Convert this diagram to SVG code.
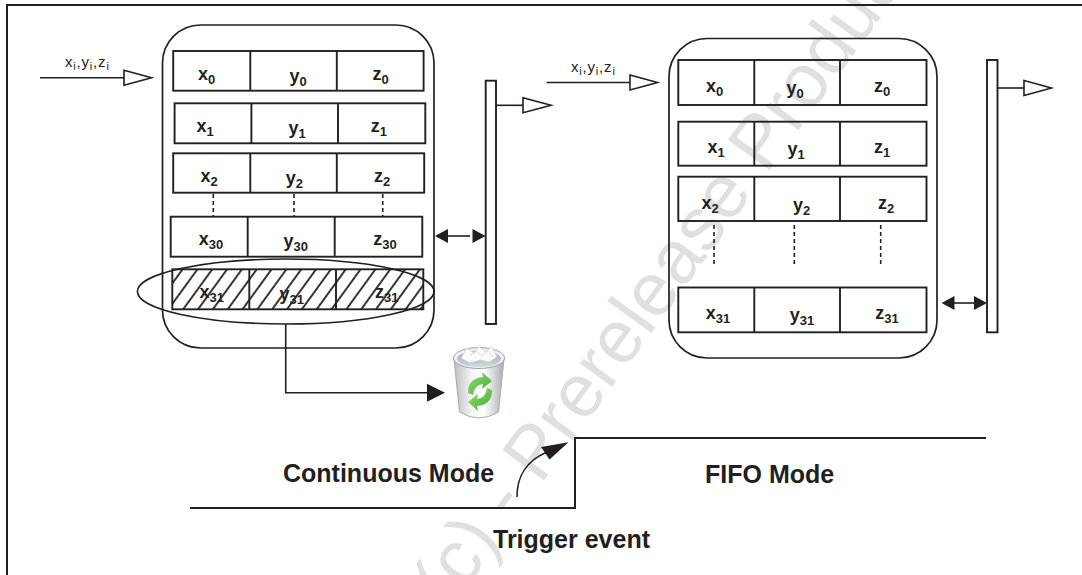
<svg xmlns="http://www.w3.org/2000/svg" width="1082" height="575" viewBox="0 0 1082 575">
<style>
.ln{fill:none;stroke:#231f20;stroke-width:1.6}
.frame{fill:none;stroke:#231f20;stroke-width:2}
.cont{fill:none;stroke:#231f20;stroke-width:1.7}
.cell{fill:none;stroke:#231f20;stroke-width:1.9}
.open{fill:#fff;stroke:#231f20;stroke-width:1.6}
.solid{fill:#231f20;stroke:none}
.dot{fill:none;stroke:#231f20;stroke-width:1.6;stroke-dasharray:4 3}
.lab{font-family:"Liberation Sans",Arial,sans-serif;font-weight:bold;font-size:18px;fill:#231f20;text-anchor:middle}
.sub{font-size:13px}
.in{font-family:"Liberation Sans",Arial,sans-serif;font-size:15px;fill:#231f20;letter-spacing:0.8px}
.isub{font-size:11px}
.big{font-family:"Liberation Sans",Arial,sans-serif;font-weight:bold;font-size:25px;fill:#231f20}
.wm{font-family:"Liberation Sans",Arial,sans-serif;font-size:75px;fill:#e0e0e0}
</style>
<defs>
<pattern id="hatch" patternUnits="userSpaceOnUse" width="12" height="12" patternTransform="rotate(36)">
<line x1="6" y1="-1" x2="6" y2="13" stroke="#231f20" stroke-width="1.8"/>
</pattern>
<clipPath id="clip31"><rect x="172.3" y="269.3" width="251" height="40"/></clipPath>
<linearGradient id="canBody" x1="0" y1="0" x2="1" y2="0">
<stop offset="0" stop-color="#b9bcbf"/>
<stop offset="0.35" stop-color="#f4f5f6"/>
<stop offset="0.6" stop-color="#ffffff"/>
<stop offset="1" stop-color="#a9adb1"/>
</linearGradient>
<linearGradient id="canIn" x1="0" y1="0" x2="0" y2="1">
<stop offset="0" stop-color="#9ea3a8"/>
<stop offset="1" stop-color="#d7dadd"/>
</linearGradient>
<linearGradient id="grn" x1="0" y1="0" x2="1" y2="1">
<stop offset="0" stop-color="#9be06b"/>
<stop offset="1" stop-color="#3fa83a"/>
</linearGradient>
</defs>
<rect x="0" y="0" width="1082" height="575" fill="#fff"/>

<g id="watermark">
<text class="wm" transform="translate(450,610) rotate(-54)">(c) - Prerelease Product</text>
</g>

<g id="frame">
<polyline class="frame" points="7,575 7,5 1082,5"/>
</g>

<g id="continuous-buffer">
<rect class="cont" x="162.5" y="25" width="271.5" height="323" rx="38" ry="38"/>
<g id="l-row0">
<rect class="cell" x="173.2" y="51" width="250.4" height="39.7"/>
<line class="cell" x1="250.3" y1="51" x2="250.3" y2="90.7"/>
<line class="cell" x1="336.8" y1="51" x2="336.8" y2="90.7"/>
<text class="lab" x="206.6" y="79.5">x<tspan class="sub" dy="4">0</tspan></text>
<text class="lab" x="298" y="81.5">y<tspan class="sub" dy="4">0</tspan></text>
<text class="lab" x="380.5" y="79.5">z<tspan class="sub" dy="4">0</tspan></text>
</g>
<g id="l-row1">
<rect class="cell" x="174.6" y="103.3" width="250.7" height="40"/>
<line class="cell" x1="251.4" y1="103.3" x2="251.4" y2="143.3"/>
<line class="cell" x1="338" y1="103.3" x2="338" y2="143.3"/>
<text class="lab" x="205" y="132">x<tspan class="sub" dy="4">1</tspan></text>
<text class="lab" x="297" y="134">y<tspan class="sub" dy="4">1</tspan></text>
<text class="lab" x="378.8" y="132">z<tspan class="sub" dy="4">1</tspan></text>
</g>
<g id="l-row2">
<rect class="cell" x="173.2" y="153.3" width="251" height="39.4"/>
<line class="cell" x1="250.3" y1="153.3" x2="250.3" y2="192.7"/>
<line class="cell" x1="336.8" y1="153.3" x2="336.8" y2="192.7"/>
<text class="lab" x="209" y="181.5">x<tspan class="sub" dy="4">2</tspan></text>
<text class="lab" x="294.4" y="183.5">y<tspan class="sub" dy="4">2</tspan></text>
<text class="lab" x="382" y="181.5">z<tspan class="sub" dy="4">2</tspan></text>
</g>
<line class="dot" x1="213.3" y1="194" x2="213.3" y2="216"/>
<line class="dot" x1="294" y1="194" x2="294" y2="216"/>
<line class="dot" x1="382.7" y1="194" x2="382.7" y2="216"/>
<g id="l-row30">
<rect class="cell" x="170.7" y="216.7" width="251.6" height="40"/>
<line class="cell" x1="247.7" y1="216.7" x2="247.7" y2="256.7"/>
<line class="cell" x1="334.7" y1="216.7" x2="334.7" y2="256.7"/>
<text class="lab" x="211" y="245">x<tspan class="sub" dy="4">30</tspan></text>
<text class="lab" x="295.7" y="247">y<tspan class="sub" dy="4">30</tspan></text>
<text class="lab" x="385" y="245">z<tspan class="sub" dy="4">30</tspan></text>
</g>
<g id="l-row31">
<rect x="172.3" y="269.3" width="251" height="40" fill="url(#hatch)" clip-path="url(#clip31)"/>
<text class="lab" x="211.7" y="297.5">x<tspan class="sub" dy="4">31</tspan></text>
<text class="lab" x="291.7" y="299.5">y<tspan class="sub" dy="4">31</tspan></text>
<text class="lab" x="386.7" y="297.5">z<tspan class="sub" dy="4">31</tspan></text>
<rect class="cell" x="172.3" y="269.3" width="251" height="40"/>
<line class="cell" x1="249.3" y1="269.3" x2="249.3" y2="309.3"/>
<line class="cell" x1="336" y1="269.3" x2="336" y2="309.3"/>
</g>
<ellipse id="discard-ellipse" class="ln" cx="285.7" cy="291.5" rx="148.3" ry="32.5"/>
</g>

<g id="l-output-bar">
<rect class="cell" x="485.7" y="80.7" width="10.3" height="243.3"/>
</g>

<g id="fifo-buffer">
<rect class="cont" x="669" y="38.5" width="268" height="319.5" rx="38" ry="38"/>
<g id="r-row0">
<rect class="cell" x="678.3" y="60" width="248.2" height="45"/>
<line class="cell" x1="754.3" y1="60" x2="754.3" y2="105"/>
<line class="cell" x1="840" y1="60" x2="840" y2="105"/>
<text class="lab" x="714.6" y="92">x<tspan class="sub" dy="4">0</tspan></text>
<text class="lab" x="795" y="94">y<tspan class="sub" dy="4">0</tspan></text>
<text class="lab" x="882" y="92">z<tspan class="sub" dy="4">0</tspan></text>
</g>
<g id="r-row1">
<rect class="cell" x="678.3" y="121.7" width="248.2" height="44"/>
<line class="cell" x1="754.3" y1="121.7" x2="754.3" y2="165.7"/>
<line class="cell" x1="840" y1="121.7" x2="840" y2="165.7"/>
<text class="lab" x="716" y="153">x<tspan class="sub" dy="4">1</tspan></text>
<text class="lab" x="796" y="155">y<tspan class="sub" dy="4">1</tspan></text>
<text class="lab" x="882" y="153">z<tspan class="sub" dy="4">1</tspan></text>
</g>
<g id="r-row2">
<rect class="cell" x="678.3" y="176.7" width="248.2" height="44.3"/>
<line class="cell" x1="754.3" y1="176.7" x2="754.3" y2="221"/>
<line class="cell" x1="840" y1="176.7" x2="840" y2="221"/>
<text class="lab" x="710" y="208.5">x<tspan class="sub" dy="4">2</tspan></text>
<text class="lab" x="801.7" y="210.5">y<tspan class="sub" dy="4">2</tspan></text>
<text class="lab" x="886" y="208.5">z<tspan class="sub" dy="4">2</tspan></text>
</g>
<line class="dot" x1="714" y1="225" x2="714" y2="267"/>
<line class="dot" x1="794.3" y1="225" x2="794.3" y2="267"/>
<line class="dot" x1="880.7" y1="225" x2="880.7" y2="267"/>
<g id="r-row31">
<rect class="cell" x="678.3" y="287.5" width="248.2" height="44.8"/>
<line class="cell" x1="754.3" y1="287.5" x2="754.3" y2="332.3"/>
<line class="cell" x1="840" y1="287.5" x2="840" y2="332.3"/>
<text class="lab" x="718" y="319">x<tspan class="sub" dy="4">31</tspan></text>
<text class="lab" x="802" y="321">y<tspan class="sub" dy="4">31</tspan></text>
<text class="lab" x="887" y="319">z<tspan class="sub" dy="4">31</tspan></text>
</g>
</g>

<g id="r-output-bar">
<rect class="cell" x="987" y="60" width="10.5" height="272.3"/>
</g>

<g id="trash-bin">
<path d="M454,359 L459.5,412 Q479,424 498.5,412 L504,359 Z" fill="url(#canBody)" stroke="#a8acb0" stroke-width="1"/>
<ellipse cx="479" cy="358" rx="25.5" ry="10.5" fill="#eef0f2" stroke="#a0a4a8" stroke-width="1"/>
<ellipse cx="479" cy="359" rx="22" ry="8" fill="url(#canIn)"/>
<path d="M461,358 L467,348 L474,353 L479,346 L485,352 L492,347 L497,357 L489,362 L480,360 L470,363 Z" fill="#fbfbfb" stroke="#cfd2d5" stroke-width="0.8"/>
<path d="M470,356 L476,351 L482,356 L488,351 L493,357" fill="none" stroke="#d4d7da" stroke-width="0.8"/>
<path d="M468,393 Q468,378 483,377 L482,372 L492,381 L482,389 L483,384 Q474,385 473,395 Z" fill="url(#grn)"/>
<path d="M492,390 Q492,405 477,406 L478,411 L468,402 L478,394 L477,399 Q486,398 487,388 Z" fill="url(#grn)"/>
</g>

<g id="connectors">
<line class="ln" x1="40" y1="77.7" x2="124" y2="77.7"/>
<polygon class="open" points="124,70.2 151.5,77.7 124,85.2"/>
<line class="ln" x1="496" y1="105.3" x2="523" y2="105.3"/>
<polygon class="open" points="523,97.8 551,105.3 523,112.8"/>
<line class="ln" x1="546.5" y1="82.5" x2="630" y2="82.5"/>
<polygon class="open" points="630,75 657.5,82.5 630,90"/>
<line class="ln" x1="997.5" y1="88" x2="1024" y2="88"/>
<polygon class="open" points="1024,80.5 1051.5,88 1024,95.5"/>
<line class="ln" x1="446" y1="236" x2="470" y2="236"/>
<polygon class="solid" points="435,236 448,229 448,243"/>
<polygon class="solid" points="485.5,236 472.5,229 472.5,243"/>
<line class="ln" x1="952" y1="303" x2="976" y2="303"/>
<polygon class="solid" points="941.5,303 954.5,296 954.5,310"/>
<polygon class="solid" points="987,303 974,296 974,310"/>
<polyline class="ln" points="285.7,324 285.7,392.7 430,392.7"/>
<polygon class="solid" points="427,383.7 445,392.7 427,401.7"/>
<polyline class="frame" points="190,508 575,508 575,438 986,438"/>
<path class="ln" d="M517,497 C517,478 524,462 547,452"/>
<polygon class="solid" points="568.5,442.3 541,447 549.5,459.5"/>
</g>

<g id="labels">
<text class="in" x="65" y="67">x<tspan class="isub" dy="3">i</tspan><tspan dy="-3">,y</tspan><tspan class="isub" dy="3">i</tspan><tspan dy="-3">,z</tspan><tspan class="isub" dy="3">i</tspan></text>
<text class="in" x="571" y="72">x<tspan class="isub" dy="3">i</tspan><tspan dy="-3">,y</tspan><tspan class="isub" dy="3">i</tspan><tspan dy="-3">,z</tspan><tspan class="isub" dy="3">i</tspan></text>
<text class="big" x="283" y="482">Continuous Mode</text>
<text class="big" x="705" y="483">FIFO Mode</text>
<text class="big" x="493" y="548">Trigger event</text>
</g>
</svg>
